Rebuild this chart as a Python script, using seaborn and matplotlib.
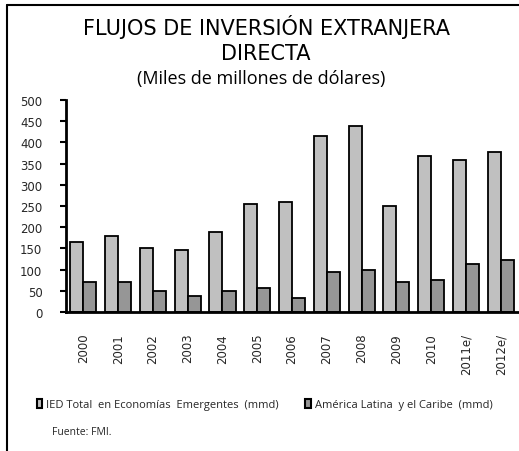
import numpy as np
import pandas as pd
import matplotlib
matplotlib.use("Agg")
import matplotlib.pyplot as plt
import seaborn as sns
from matplotlib.patches import Patch
from matplotlib.lines import Line2D

# ================= DATOS =================
anios = ['2000', '2001', '2002', '2003', '2004', '2005', '2006',
         '2007', '2008', '2009', '2010', '2011e/', '2012e/']
ied_emergentes = [166, 180, 152, 147, 189, 255, 260, 416, 439, 251, 369, 359, 378]
america_latina = [70, 70, 50, 37, 50, 57, 34, 95, 100, 71, 76, 114, 123]

serie_1 = 'IED Total  en Economías  Emergentes  (mmd)'
serie_2 = 'América Latina  y el Caribe  (mmd)'

df = pd.DataFrame({
    'anio': anios * 2,
    'valor': ied_emergentes + america_latina,
    'serie': [serie_1] * len(anios) + [serie_2] * len(anios),
})

colores = {serie_1: '#C0C0C0', serie_2: '#969696'}

# ================= GRAFICO =================
sns.set_style("white")
plt.rcParams['font.family'] = ['DejaVu Sans']

fig = plt.figure(figsize=(5.19, 4.52), dpi=100)
ax = fig.add_axes([0.1272, 0.3075, 0.871, 0.469])

sns.barplot(data=df, x='anio', y='valor', hue='serie', palette=colores,
            width=0.75, edgecolor='black', linewidth=1.3, ax=ax,
            legend=False, saturation=1)

ax.set_ylim(0, 500)
ax.set_xlim(-0.5, len(anios) - 0.5)
ax.set_yticks(range(0, 501, 50))
ax.set_xlabel('')
ax.set_ylabel('')

# spines
for s in ['top', 'right']:
    ax.spines[s].set_visible(False)
for s in ['left', 'bottom']:
    ax.spines[s].set_linewidth(2)
    ax.spines[s].set_color('black')

# ticks: etiquetas centradas, marcas en los limites de categoria
ax.set_xticks(range(len(anios)))
ax.set_xticklabels(anios, rotation=90, fontsize=8.5)
ax.set_xticks(np.arange(-0.5, len(anios), 1), minor=True)
ax.tick_params(axis='x', which='major', length=0, pad=15)
ax.tick_params(axis='x', which='minor', length=4, width=1.5, color='black', direction='out')
ax.tick_params(axis='y', length=4, width=1.5, color='black', direction='out',
               labelsize=8.5, left=True, pad=13)

# titulos
fig.text(0.513, 0.94, 'FLUJOS DE INVERSIÓN EXTRANJERA', ha='center', va='center',
         fontsize=15, family='DejaVu Sans', color='black')
fig.text(0.513, 0.881, 'DIRECTA', ha='center', va='center',
         fontsize=15, family='DejaVu Sans', color='black')
fig.text(0.504, 0.825, '(Miles de millones de dólares)', ha='center', va='center',
         fontsize=13, family='Open Sans', color='black')

# leyenda
handles = [Patch(facecolor=colores[serie_1], edgecolor='black', linewidth=1.5, label=serie_1),
           Patch(facecolor=colores[serie_2], edgecolor='black', linewidth=1.5, label=serie_2)]
fig.legend(handles=handles, loc='center', bbox_to_anchor=(0.51, 0.102), ncol=2,
           frameon=False, handlelength=0.5, handleheight=0.8, handletextpad=0.35,
           columnspacing=2.4, prop={'family': 'Open Sans', 'size': 8})

fig.text(0.1, 0.044, 'Fuente: FMI.', ha='left', va='center', fontsize=7.5, family='Open Sans')

# borde del recuadro (izquierda y arriba)
fig.add_artist(Line2D([0.0135, 0.0135], [0.0, 0.987], color='black', linewidth=1.5,
                      transform=fig.transFigure))
fig.add_artist(Line2D([0.0135, 1.0], [0.987, 0.987], color='black', linewidth=1.5,
                      transform=fig.transFigure))

fig.savefig('out.png', dpi=100)
